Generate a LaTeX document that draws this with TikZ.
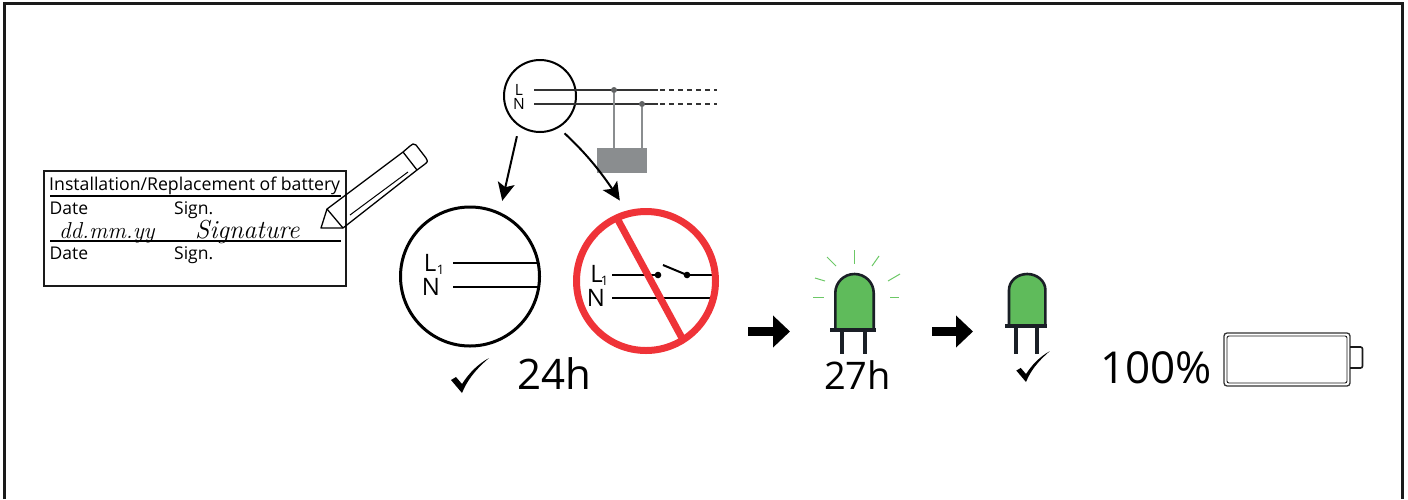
\documentclass[tikz,border=0pt]{standalone}
\usepackage{fontspec}
\setsansfont{Open Sans}
\usepackage{xcolor}
\usetikzlibrary{arrows.meta,bending}
\definecolor{vblk}{HTML}{1A1A1A}
\definecolor{vdark}{HTML}{333333}
\definecolor{vmid}{HTML}{8A8D8F}
\definecolor{vred}{HTML}{EF3338}
\definecolor{vgrn}{HTML}{5FBB5B}
\definecolor{vray}{HTML}{6CC866}
\definecolor{vled}{HTML}{1A1F26}
\tikzset{
	lbl/.style={font=\sffamily\fontsize{#1}{#1}\selectfont, inner sep=0pt, text=black},
	ring/.style={draw=black, circle, inner sep=0pt, outer sep=0pt},
	flow/.style={draw=black, line width=2pt, -{Stealth[length=18pt,width=17pt,inset=4pt,flex]}},
	block/.style={draw=black, line width=8.5pt, -{Triangle[length=17pt,width=31pt]}},
	wire/.style={draw=black, line width=2pt},
	ledbody/.style={draw=vled, fill=vgrn, line width=2.6pt},
	ledleg/.style={draw=vled, line width=3.4pt},
	ledray/.style={draw=vray, line width=1pt},
	hand/.style={font=\rmfamily\itshape\fontsize{#1}{#1}\selectfont, inner sep=0pt},
	tick/.pic={
		\fill[black] (0,0) -- (-11,-13) -- (-6,-16) -- (0,-9) .. controls (7,-20) and (16,-29) .. (27,-35) .. controls (12,-22) and (5,-12) .. cycle;
	}
}
\begin{document}
\begin{tikzpicture}[x=1pt,y=-1pt]
	\useasboundingbox (0,0) rectangle (1408,499);
	% frame
	\draw[line width=3pt, draw=vblk] (4.5,499) -- (4.5,3.5) -- (1402.5,3.5) -- (1402.5,499);

	% form
	\draw[line width=1.5pt, draw=vblk] (44,171) rectangle (346,286);
	\draw[line width=1.5pt] (50,196) -- (341,196);
	\draw[line width=1.5pt] (50,241) -- (341,241);
	\node[lbl=17.7, anchor=base west] (title) at (49,190) {Installation/Replacement of battery};
	\node[lbl=17.5, anchor=base west] (date1) at (49.5,214) {Date};
	\node[lbl=17.5, anchor=base west] (sign1) at (174,214) {Sign.};
	\node[lbl=17.5, anchor=base west] (date2) at (49.5,259) {Date};
	\node[lbl=17.5, anchor=base west] (sign2) at (174,259) {Sign.};
	\node[hand=23, anchor=base west] (ddmm) at (59,238) {dd.mm.yy};
	\node[hand=26, anchor=base west] (signat) at (195,238.5) {\addfontfeature{LetterSpace=3}Signature};

	% pencil
	\draw[line width=1.3pt, line join=round] (327,209) -- (403,152) -- (410,146) .. controls (412,144) and (414,143) .. (416,145) -- (426,158) .. controls (428,160) and (428,162) .. (425,164) -- (417,170) -- (343,228) -- (321,228) -- cycle;
	\draw[line width=1.3pt] (327,209) -- (343,228);
	\draw[line width=1.3pt] (403,152) -- (417,170);
	\draw[line width=1pt] (350,215) -- (408,172);

	% meter
	\node[ring, line width=2pt, minimum size=72pt] (meter) at (540,96) {};
	\node[lbl=15.5] (mL) at (519,90) {L};
	\node[lbl=15.5] (mN) at (519,104) {N};
	\draw[vdark, line width=1.6pt] (534,90) -- (658,90);
	\draw[vdark, line width=1.6pt] (534,104) -- (658,104);
	\draw[vdark, line width=1.2pt, dash pattern=on 5pt off 4pt] (660,90) -- (717,90);
	\draw[vdark, line width=1.2pt, dash pattern=on 5pt off 4pt] (660,104) -- (717,104);
	\node[fill=vmid!70!black, circle, inner sep=0pt, minimum size=6pt] (dotL) at (614,90) {};
	\node[fill=vmid!70!black, circle, inner sep=0pt, minimum size=6pt] (dotN) at (642,104) {};
	\node[fill=vmid, inner sep=0pt, minimum width=50pt, minimum height=25pt] (load) at (622,160.5) {};
	\draw[vmid, line width=1.4pt] (dotL) -- (dotL |- load.north);
	\draw[vmid, line width=1.4pt] (dotN) -- (dotN |- load.north);

	% allowed
	\node[ring, line width=3pt, minimum size=139pt] (okring) at (470,276.5) {};
	\node[lbl=24] (okL) at (430,263) {L};
	\node[lbl=13] (ok1) at (440.5,270) {1};
	\node[lbl=24] (okN) at (431,287) {N};
	\draw[wire] (453,263) -- (538,263);
	\draw[wire] (453,287) -- (538,287);

	% not allowed
	\draw[wire] (612,275) -- (658,275);
	\draw[wire] (687,275) -- (715,275);
	\draw[wire] (663,265) -- (687,275);
	\draw[wire] (612,298) -- (710,298);
	\fill (658,275) circle (3.3);
	\fill (687,275) circle (3.3);
	\node[ring, draw=vred, line width=7pt, minimum size=139pt] (noring) at (646,281) {};
	\draw[vred, line width=7pt] (618,220) -- (682,338);
	\node[lbl=24] (noL) at (596.5,274) {L};
	\node[lbl=13] (no1) at (604.5,281) {1};
	\node[lbl=24] (noN) at (596,298) {N};

	\draw[flow, shorten <=11pt, shorten >=13pt] (meter.235) -- (okring.65);
	\draw[flow, shorten <=9pt, shorten >=16pt] (meter.-60) to[bend left=8] (noring.105);

	\pic at (462,393) {tick};
	\node[lbl=42, anchor=base west] (hours24) at (517,389) {24h};

	% block arrows
	\coordinate (b1s) at (748,331.5);
	\coordinate (b1e) at (790,331.5);
	\coordinate (b2s) at (932,331.5);
	\coordinate (b2e) at (973,331.5);
	\draw[block] (b1s) -- (b1e);
	\draw[block] (b2s) -- (b2e);

	% led on
	\draw[ledbody] (835.3,329) -- (835.3,293) arc[start angle=180, end angle=360, x radius=19.2, y radius=19] -- (873.7,329);
	\draw[ledleg] (830,330) -- (876,330);
	\draw[ledleg] (842,331) -- (842,354);
	\draw[ledleg] (865,331) -- (865,354);
	\draw[ledray] (854,250) -- (854,264);
	\draw[ledray] (827,257) -- (836,266);
	\draw[ledray] (879,256) -- (872,266);
	\draw[ledray] (815,278) -- (825,281);
	\draw[ledray] (900,274) -- (888,281);
	\draw[ledray] (813,297) -- (824,297);
	\draw[ledray] (890,297) -- (899,297);
	\node[lbl=38, anchor=base west] (hours27) at (824,389) {27h};

	% led off
	\draw[ledbody] (1009,325) -- (1009,290) arc[start angle=180, end angle=360, x radius=18.2, y radius=16] -- (1045.4,325);
	\draw[ledleg] (1005,326) -- (1047,326);
	\draw[ledleg] (1016,327) -- (1016,354);
	\draw[ledleg] (1037,327) -- (1037,354);
	\pic[scale=.88] at (1026,382) {tick};

	% battery
	\node[lbl=44, anchor=base west] (full) at (1100,383) {100\%};
	\draw[vdark, line width=1.3pt, rounded corners=3pt] (1224,333) rectangle (1350,386);
	\draw[vblk, line width=.9pt, rounded corners=2pt] (1227,336) rectangle (1347,383);
	\draw[vblk, line width=1.6pt, rounded corners=2pt] (1350,347) -- (1362.5,347) -- (1362.5,368) -- (1350,368);
\end{tikzpicture}
\end{document}
